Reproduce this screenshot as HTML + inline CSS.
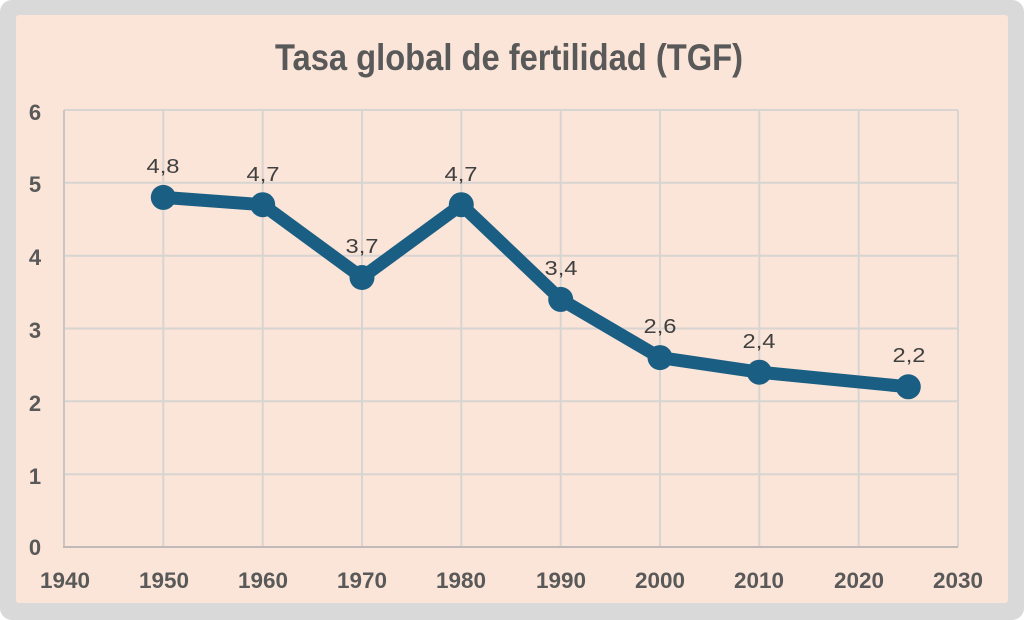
<!DOCTYPE html>
<html>
<head>
<meta charset="utf-8">
<style>
  html,body{margin:0;padding:0;background:#ffffff;}
  body{width:1024px;height:620px;overflow:hidden;}
  svg{display:block;}
</style>
</head>
<body>
<svg width="1024" height="620" viewBox="0 0 1024 620" xmlns="http://www.w3.org/2000/svg">
  <rect x="0" y="0" width="1024" height="620" rx="12" ry="12" fill="#d9d9d9"/>
  <rect x="16" y="15" width="992" height="588" rx="3" ry="3" fill="#fbe5d8"/>

  <text x="509" y="70" text-anchor="middle" font-family="Liberation Sans, sans-serif" font-weight="bold" font-size="33" fill="#595959" textLength="468" lengthAdjust="spacingAndGlyphs" transform="translate(0,-9) scale(1,1.13)">Tasa global de fertilidad (TGF)</text>

  <g stroke="#d8d4d2" stroke-width="2" fill="none">
    <line x1="64" y1="110" x2="958" y2="110"/>
    <line x1="64" y1="182.8" x2="958" y2="182.8"/>
    <line x1="64" y1="255.7" x2="958" y2="255.7"/>
    <line x1="64" y1="328.5" x2="958" y2="328.5"/>
    <line x1="64" y1="401.3" x2="958" y2="401.3"/>
    <line x1="64" y1="474.2" x2="958" y2="474.2"/>
    <line x1="163.3" y1="110" x2="163.3" y2="547"/>
    <line x1="262.7" y1="110" x2="262.7" y2="547"/>
    <line x1="362" y1="110" x2="362" y2="547"/>
    <line x1="461.3" y1="110" x2="461.3" y2="547"/>
    <line x1="560.7" y1="110" x2="560.7" y2="547"/>
    <line x1="660" y1="110" x2="660" y2="547"/>
    <line x1="759.3" y1="110" x2="759.3" y2="547"/>
    <line x1="858.7" y1="110" x2="858.7" y2="547"/>
    <line x1="958" y1="110" x2="958" y2="547"/>
  </g>
  <line x1="64" y1="110" x2="64" y2="547" stroke="#c9c5c3" stroke-width="2"/>
  <line x1="63" y1="547" x2="958" y2="547" stroke="#bfbab7" stroke-width="2"/>

  <g font-family="Liberation Sans, sans-serif" font-weight="bold" font-size="22" fill="#595959" text-anchor="middle">
    <text x="35" y="120">6</text>
    <text x="35" y="192">5</text>
    <text x="35" y="265">4</text>
    <text x="35" y="338">3</text>
    <text x="35" y="411">2</text>
    <text x="35" y="484">1</text>
    <text x="35" y="555">0</text>
  </g>
  <g font-family="Liberation Sans, sans-serif" font-weight="bold" font-size="22" fill="#595959" text-anchor="middle">
    <text x="65" y="588" textLength="50" lengthAdjust="spacingAndGlyphs">1940</text>
    <text x="164" y="588" textLength="50" lengthAdjust="spacingAndGlyphs">1950</text>
    <text x="263" y="588" textLength="50" lengthAdjust="spacingAndGlyphs">1960</text>
    <text x="362" y="588" textLength="50" lengthAdjust="spacingAndGlyphs">1970</text>
    <text x="461" y="588" textLength="50" lengthAdjust="spacingAndGlyphs">1980</text>
    <text x="561" y="588" textLength="50" lengthAdjust="spacingAndGlyphs">1990</text>
    <text x="660" y="588" textLength="50" lengthAdjust="spacingAndGlyphs">2000</text>
    <text x="759" y="588" textLength="50" lengthAdjust="spacingAndGlyphs">2010</text>
    <text x="859" y="588" textLength="50" lengthAdjust="spacingAndGlyphs">2020</text>
    <text x="958" y="588" textLength="50" lengthAdjust="spacingAndGlyphs">2030</text>
  </g>

  <polyline points="163.3,197.4 262.7,204.7 362,277.5 461.3,204.7 560.7,299.4 660,357.6 759.3,372.2 908.3,386.8" fill="none" stroke="#1b5e83" stroke-width="13" stroke-linejoin="round" stroke-linecap="round"/>
  <g fill="#1b5e83">
    <circle cx="163.3" cy="197.4" r="12.5"/>
    <circle cx="262.7" cy="204.7" r="12.5"/>
    <circle cx="362" cy="277.5" r="12.5"/>
    <circle cx="461.3" cy="204.7" r="12.5"/>
    <circle cx="560.7" cy="299.4" r="12.5"/>
    <circle cx="660" cy="357.6" r="12.5"/>
    <circle cx="759.3" cy="372.2" r="12.5"/>
    <circle cx="908.3" cy="386.8" r="12.5"/>
  </g>

  <g font-family="Liberation Sans, sans-serif" font-size="20" fill="#404040" text-anchor="middle">
    <text x="163" y="173" textLength="33" lengthAdjust="spacingAndGlyphs">4,8</text>
    <text x="263" y="181" textLength="33" lengthAdjust="spacingAndGlyphs">4,7</text>
    <text x="362" y="253" textLength="33" lengthAdjust="spacingAndGlyphs">3,7</text>
    <text x="461" y="181" textLength="33" lengthAdjust="spacingAndGlyphs">4,7</text>
    <text x="561" y="275" textLength="33" lengthAdjust="spacingAndGlyphs">3,4</text>
    <text x="660" y="333" textLength="33" lengthAdjust="spacingAndGlyphs">2,6</text>
    <text x="759" y="348" textLength="33" lengthAdjust="spacingAndGlyphs">2,4</text>
    <text x="909" y="362" textLength="33" lengthAdjust="spacingAndGlyphs">2,2</text>
  </g>
</svg>
</body>
</html>
